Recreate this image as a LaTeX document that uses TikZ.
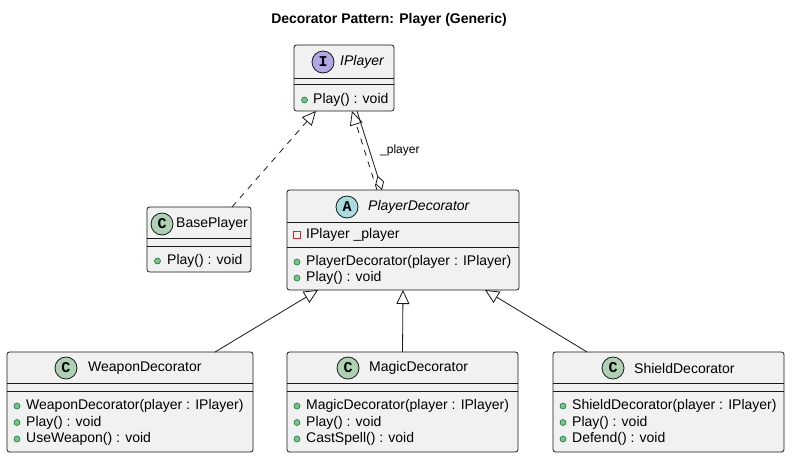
\documentclass[tikz,border=0pt]{standalone}
\usepackage{fontspec}
\setmainfont{Liberation Sans}
\newfontfamily\iconfont{Liberation Mono}
\usetikzlibrary{arrows.meta,positioning}
\definecolor{umlline}{HTML}{181818}
\definecolor{umlfill}{HTML}{F1F1F1}
\definecolor{iconI}{HTML}{B4A7E5}
\definecolor{iconA}{HTML}{A9DCDF}
\definecolor{iconC}{HTML}{ADD1B2}
\definecolor{pubfill}{HTML}{84BE84}
\definecolor{publine}{HTML}{038048}
\definecolor{privline}{HTML}{C82930}
\tikzset{
  umlbox/.style={draw=umlline, fill=umlfill, line width=0.8pt, rounded corners=2.5pt,
    anchor=north west, inner sep=0pt, outer sep=0pt},
  sepline/.style={draw=umlline, line width=0.8pt},
  icon/.style={circle, draw=umlline, line width=0.8pt, minimum size=22pt, inner sep=0pt,
    font=\fontsize{15}{15}\iconfont\bfseries},
  clsname/.style={anchor=west, inner sep=0pt},
  member/.style={anchor=west, inner sep=0pt},
  pub/.style={circle, draw=publine, fill=pubfill, line width=0.6pt, minimum size=6pt, inner sep=0pt},
  priv/.style={rectangle, draw=privline, line width=0.8pt, minimum size=6.5pt, inner sep=0pt},
  realize/.style={draw=umlline, line width=0.8pt, dash pattern=on 6pt off 6pt,
    -{Triangle[open, length=14pt, width=13pt, fill=white]}},
  generalize/.style={draw=umlline, line width=0.8pt,
    -{Triangle[open, length=14pt, width=13pt, fill=white]}},
  aggr/.style={draw=umlline, line width=0.8pt,
    {Diamond[open, length=15pt, width=9pt, fill=white]}-}
}
\begin{document}
\begin{tikzpicture}[x=1pt, y=-1pt, font=\fontsize{14}{16}\selectfont]
  \useasboundingbox (0,0) rectangle (792,459);
  \node[font=\fontsize{14}{16}\selectfont\bfseries] (title) at (389,20) {Decorator Pattern: Player (Generic)};

  % interface
  \node[umlbox, minimum width=100pt, minimum height=66pt] (iplayer) at (294,45) {};
  \draw[sepline] (294,78) -- (394,78);
  \draw[sepline] (294,84) -- (394,84);
  \node[icon, fill=iconI] (iplayerico) at (323,62) {I};
  \node[clsname] (iplayername) at (340,62) {\itshape IPlayer};
  \node[pub] (iplayerm1dot) at (304.5,100) {};
  \node[member] (iplayerm1) at (313,100) {Play() : void};

  % base class
  \node[umlbox, minimum width=104pt, minimum height=65pt] (baseplayer) at (147,207) {};
  \draw[sepline] (147,238) -- (251,238);
  \draw[sepline] (147,246) -- (251,246);
  \node[icon, fill=iconC] (baseplayerico) at (162,224) {C};
  \node[clsname] (baseplayername) at (176,224) {BasePlayer};
  \node[pub] (baseplayerm1dot) at (157.5,261) {};
  \node[member] (baseplayerm1) at (167,261) {Play() : void};

  % abstract decorator
  \node[umlbox, minimum width=232pt, minimum height=100pt] (pd) at (287,190) {};
  \draw[sepline] (287,222) -- (519,222);
  \draw[sepline] (287,247) -- (519,247);
  \node[icon, fill=iconA] (pdico) at (347,207) {A};
  \node[clsname] (pdname) at (368,207) {\itshape PlayerDecorator};
  \node[priv] (pda1dot) at (297,235) {};
  \node[member] (pda1) at (306,235) {IPlayer \_player};
  \node[pub] (pdm1dot) at (297,262) {};
  \node[member] (pdm1) at (306,262) {PlayerDecorator(player : IPlayer)};
  \node[pub] (pdm2dot) at (297,278) {};
  \node[member] (pdm2) at (306,278) {Play() : void};

  % concrete decorators
  \node[umlbox, minimum width=246pt, minimum height=100pt] (weapon) at (7,352) {};
  \draw[sepline] (7,383) -- (253,383);
  \draw[sepline] (7,391) -- (253,391);
  \node[icon, fill=iconC] (weaponico) at (66,368) {C};
  \node[clsname] (weaponname) at (88,368) {WeaponDecorator};
  \node[pub] (weaponm1dot) at (17,406) {};
  \node[member] (weaponm1) at (26,406) {WeaponDecorator(player : IPlayer)};
  \node[pub] (weaponm2dot) at (17,422.5) {};
  \node[member] (weaponm2) at (26,422.5) {Play() : void};
  \node[pub] (weaponm3dot) at (17,439) {};
  \node[member] (weaponm3) at (26,439) {UseWeapon() : void};

  \node[umlbox, minimum width=231pt, minimum height=100pt] (magic) at (287,352) {};
  \draw[sepline] (287,383) -- (518,383);
  \draw[sepline] (287,391) -- (518,391);
  \node[icon, fill=iconC] (magicico) at (348,368) {C};
  \node[clsname] (magicname) at (369,368) {MagicDecorator};
  \node[pub] (magicm1dot) at (297,406) {};
  \node[member] (magicm1) at (306,406) {MagicDecorator(player : IPlayer)};
  \node[pub] (magicm2dot) at (297,422.5) {};
  \node[member] (magicm2) at (306,422.5) {Play() : void};
  \node[pub] (magicm3dot) at (297,439) {};
  \node[member] (magicm3) at (306,439) {CastSpell() : void};

  \node[umlbox, minimum width=231pt, minimum height=100pt] (shield) at (553,352) {};
  \draw[sepline] (553,383) -- (784,383);
  \draw[sepline] (553,391) -- (784,391);
  \node[icon, fill=iconC] (shieldico) at (613,368) {C};
  \node[clsname] (shieldname) at (634,368) {ShieldDecorator};
  \node[pub] (shieldm1dot) at (563,406) {};
  \node[member] (shieldm1) at (572,406) {ShieldDecorator(player : IPlayer)};
  \node[pub] (shieldm2dot) at (563,422.5) {};
  \node[member] (shieldm2) at (572,422.5) {Play() : void};
  \node[pub] (shieldm3dot) at (563,439) {};
  \node[member] (shieldm3) at (572,439) {Defend() : void};

  % relations
  \draw[realize] ([xshift=33pt]baseplayer.north) -- ([xshift=-28pt]iplayer.south);
  \draw[realize] ([xshift=-26pt]pd.north) -- ([xshift=8pt]iplayer.south);
  \draw[aggr] ([xshift=-21pt]pd.north) -- ([xshift=13pt]iplayer.south)
    node[pos=0.5, right=7pt, font=\fontsize{12}{14}\selectfont] (playerlbl) {\_player};
  \draw[generalize] ([xshift=85pt]weapon.north) -- ([xshift=-85pt]pd.south);
  \draw[generalize] (magic.north) -- (pd.south);
  \draw[generalize] ([xshift=-81.5pt]shield.north) -- ([xshift=82pt]pd.south);
\end{tikzpicture}
\end{document}
